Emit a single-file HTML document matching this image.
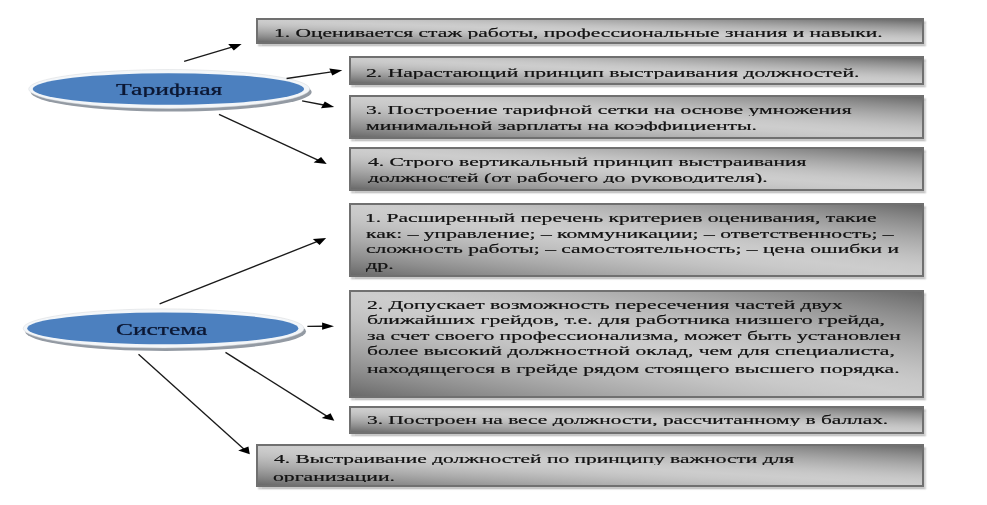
<!DOCTYPE html>
<html><head><meta charset="utf-8"><style>
html,body{margin:0;padding:0;background:#fff;}
body{width:987px;height:505px;position:relative;overflow:hidden;font-family:"Liberation Serif",serif;}
.b{position:absolute;box-sizing:border-box;border:2px solid #707070;
background:linear-gradient(to top right,#6a6a6a 0.00%,#7c7c7c 6.25%,#8d8d8d 12.50%,#9c9c9c 18.75%,#aaaaaa 25.00%,#b6b6b6 31.25%,#c1c1c1 37.50%,#c9c9c9 43.75%,#cdcdcd 50.00%,#c9c9c9 56.25%,#c1c1c1 62.50%,#b6b6b6 68.75%,#aaaaaa 75.00%,#9c9c9c 81.25%,#8d8d8d 87.50%,#7c7c7c 93.75%,#6a6a6a 100.00%);
box-shadow:2px 2.5px 1.5px rgba(0,0,0,0.22);}
.t{position:absolute;white-space:nowrap;line-height:1;color:#141414;transform-origin:0 0;-webkit-text-stroke:0.15px #141414;text-shadow:0 0 0.5px rgba(0,0,0,0.4);}
.e{position:absolute;white-space:nowrap;line-height:1;color:#0c1733;transform-origin:0 0;-webkit-text-stroke:0.2px #0c1733;text-shadow:0 0 0.6px rgba(12,23,51,0.5);}
.clip{position:absolute;overflow:hidden;}
svg{position:absolute;left:0;top:0;}
</style></head><body>

<div class="b" style="left:256.0px;top:18.2px;width:668.0px;height:26.2px"></div>
<div class="b" style="left:349.0px;top:56.1px;width:575.0px;height:29.0px"></div>
<div class="b" style="left:349.0px;top:95.3px;width:575.0px;height:43.6px"></div>
<div class="b" style="left:349.0px;top:147.3px;width:575.0px;height:43.6px"></div>
<div class="b" style="left:349.0px;top:203.1px;width:575.0px;height:73.7px"></div>
<div class="b" style="left:349.0px;top:290.2px;width:575.0px;height:107.5px"></div>
<div class="b" style="left:349.0px;top:405.7px;width:575.0px;height:28.0px"></div>
<div class="b" style="left:256.0px;top:444.2px;width:668.0px;height:43.3px"></div>
<svg width="987" height="505" viewBox="0 0 987 505"><defs><filter id="bl" x="-10%" y="-50%" width="120%" height="200%"><feGaussianBlur stdDeviation="0.5"/></filter></defs><ellipse cx="171.2" cy="92.0" rx="140.5" ry="19.5" fill="#939aa3" filter="url(#bl)"/><ellipse cx="169.2" cy="89.0" rx="140.5" ry="19.4" fill="#f3f6f9" stroke="#d6d8da" stroke-width="0.5"/><ellipse cx="168.4" cy="89.0" rx="135.7" ry="15.8" fill="#4c80bf"/><ellipse cx="165.6" cy="331.4" rx="140.4" ry="19.6" fill="#939aa3" filter="url(#bl)"/><ellipse cx="163.6" cy="328.4" rx="140.4" ry="19.5" fill="#f3f6f9" stroke="#d6d8da" stroke-width="0.5"/><ellipse cx="162.8" cy="328.4" rx="135.6" ry="15.9" fill="#4c80bf"/><line x1="184.1" y1="61.4" x2="231.8" y2="47.1" stroke="#1a1a1a" stroke-width="1.35"/><polygon points="241.6,44.1 233.8,50.5 228.2,44.1" fill="#000"/><line x1="286.6" y1="78.5" x2="331.6" y2="71.8" stroke="#1a1a1a" stroke-width="1.35"/><polygon points="342.3,70.2 332.3,75.4 329.3,68.4" fill="#000"/><line x1="302.1" y1="100.8" x2="323.7" y2="105.0" stroke="#1a1a1a" stroke-width="1.35"/><polygon points="334.2,107.0 321.0,108.2 324.8,101.4" fill="#000"/><line x1="219.0" y1="114.3" x2="318.0" y2="160.1" stroke="#1a1a1a" stroke-width="1.35"/><polygon points="326.7,164.1 313.6,162.6 321.1,156.9" fill="#000"/><line x1="159.6" y1="303.9" x2="316.9" y2="241.7" stroke="#1a1a1a" stroke-width="1.35"/><polygon points="326.1,238.1 319.6,245.0 312.8,239.0" fill="#000"/><line x1="307.4" y1="326.3" x2="323.0" y2="326.2" stroke="#1a1a1a" stroke-width="1.35"/><polygon points="334.0,326.2 322.1,329.8 322.1,322.6" fill="#000"/><line x1="225.5" y1="352.4" x2="326.8" y2="416.1" stroke="#1a1a1a" stroke-width="1.35"/><polygon points="334.3,420.8 321.7,418.1 330.6,413.2" fill="#000"/><line x1="138.5" y1="354.2" x2="243.8" y2="448.9" stroke="#1a1a1a" stroke-width="1.35"/><polygon points="249.8,454.3 238.2,450.4 248.4,446.5" fill="#000"/></svg>
<div class="clip" style="left:0;top:22.35px;width:987px;height:16.35px"><div class="t" style="left:273.6px;top:3.54px;font-size:13.5px;transform:scaleX(1.5930)">1. Оценивается стаж работы, профессиональные знания и навыки.</div></div>
<div class="clip" style="left:0;top:62.55px;width:987px;height:16.35px"><div class="t" style="left:365.8px;top:3.54px;font-size:13.5px;transform:scaleX(1.6030)">2. Нарастающий принцип выстраивания должностей.</div></div>
<div class="clip" style="left:0;top:99.65px;width:987px;height:16.35px"><div class="t" style="left:365.8px;top:3.54px;font-size:13.5px;transform:scaleX(1.5957)">3. Построение тарифной сетки на основе умножения</div></div>
<div class="clip" style="left:0;top:115.15px;width:987px;height:16.35px"><div class="t" style="left:365.8px;top:3.54px;font-size:13.5px;transform:scaleX(1.6024)">минимальной зарплаты на коэффициенты.</div></div>
<div class="clip" style="left:0;top:151.55px;width:987px;height:16.35px"><div class="t" style="left:367.6px;top:3.54px;font-size:13.5px;transform:scaleX(1.5925)">4. Строго вертикальный принцип выстраивания</div></div>
<div class="clip" style="left:0;top:167.15px;width:987px;height:16.35px"><div class="t" style="left:367.6px;top:3.54px;font-size:13.5px;transform:scaleX(1.6039)">должностей (от рабочего до руководителя).</div></div>
<div class="clip" style="left:0;top:207.95px;width:987px;height:17.45px"><div class="t" style="left:365.4px;top:3.54px;font-size:13.5px;transform:scaleX(1.5956)">1. Расширенный перечень критериев оценивания, такие</div></div>
<div class="clip" style="left:0;top:223.45px;width:987px;height:17.45px"><div class="t" style="left:366.0px;top:3.54px;font-size:13.5px;transform:scaleX(1.5994)">как: – управление; – коммуникации; – ответственность; –</div></div>
<div class="clip" style="left:0;top:238.85px;width:987px;height:17.45px"><div class="t" style="left:366.0px;top:3.54px;font-size:13.5px;transform:scaleX(1.5927)">сложность работы; – самостоятельность; – цена ошибки и</div></div>
<div class="clip" style="left:0;top:254.35px;width:987px;height:17.45px"><div class="t" style="left:366.0px;top:3.54px;font-size:13.5px;transform:scaleX(1.6247)">др.</div></div>
<div class="clip" style="left:0;top:294.15px;width:987px;height:20.25px"><div class="t" style="left:366.6px;top:3.54px;font-size:13.5px;transform:scaleX(1.5976)">2. Допускает возможность пересечения частей двух</div></div>
<div class="clip" style="left:0;top:309.35px;width:987px;height:20.25px"><div class="t" style="left:366.6px;top:3.54px;font-size:13.5px;transform:scaleX(1.6052)">ближайших грейдов, т.е. для работника низшего грейда,</div></div>
<div class="clip" style="left:0;top:325.25px;width:987px;height:20.25px"><div class="t" style="left:366.6px;top:3.54px;font-size:13.5px;transform:scaleX(1.5979)">за счет своего профессионализма, может быть установлен</div></div>
<div class="clip" style="left:0;top:340.15px;width:987px;height:20.25px"><div class="t" style="left:366.6px;top:3.54px;font-size:13.5px;transform:scaleX(1.5941)">более высокий должностной оклад, чем для специалиста,</div></div>
<div class="clip" style="left:0;top:358.45px;width:987px;height:20.25px"><div class="t" style="left:366.6px;top:3.54px;font-size:13.5px;transform:scaleX(1.6058)">находящегося в грейде рядом стоящего высшего порядка.</div></div>
<div class="clip" style="left:0;top:409.85px;width:987px;height:16.35px"><div class="t" style="left:366.6px;top:3.54px;font-size:13.5px;transform:scaleX(1.5817)">3. Построен на весе должности, рассчитанному в баллах.</div></div>
<div class="clip" style="left:0;top:448.45px;width:987px;height:16.35px"><div class="t" style="left:274.2px;top:3.54px;font-size:13.5px;transform:scaleX(1.5877)">4. Выстраивание должностей по принципу важности для</div></div>
<div class="clip" style="left:0;top:466.15px;width:987px;height:16.35px"><div class="t" style="left:273.2px;top:3.54px;font-size:13.5px;transform:scaleX(1.6084)">организации.</div></div>
<div class="clip" style="left:0;top:77.95px;width:987px;height:19.05px"><div class="e" style="left:116.0px;top:4.33px;font-size:16.5px;transform:scaleX(1.5526)">Тарифная</div></div>
<div class="clip" style="left:0;top:317.75px;width:987px;height:20.75px"><div class="e" style="left:116.2px;top:4.33px;font-size:16.5px;transform:scaleX(1.5394)">Система</div></div>
</body></html>
